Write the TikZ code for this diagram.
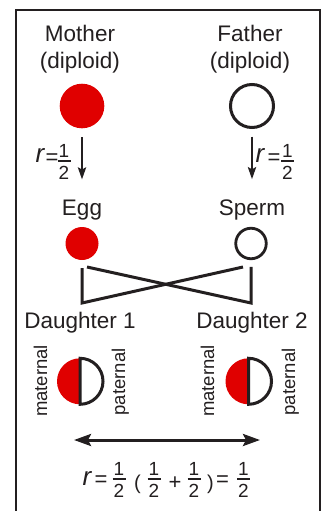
\documentclass[tikz,border=0pt]{standalone}
\usepackage{fontspec}
\setmainfont{Liberation Sans}
\usetikzlibrary{arrows.meta}
\definecolor{ink}{HTML}{231F20}
\definecolor{hred}{HTML}{E00000}

% stacked one-half: #1 name prefix, #2 x, #3 y of the bar
\newcommand\halfat[3]{%
  \node[num] (#1n) at (#2,#3-3.5) {1};
  \node[num] (#1d) at (#2,#3+18) {2};
  \draw[fracbar] (#2-6.5,#3) -- (#2+6.5,#3);
}

\begin{document}
\begin{tikzpicture}[x=1pt,y=-1pt,
  every node/.style={inner sep=0pt, outer sep=0pt, text=ink},
  lbl/.style={font=\fontsize{22.5}{26}\selectfont, anchor=base},
  side/.style={font=\fontsize{18.5}{20}\selectfont, anchor=base, rotate=90},
  num/.style={font=\fontsize{19}{20}\selectfont, anchor=base},
  sym/.style={font=\fontsize{22}{24}\selectfont, anchor=base},
  paren/.style={font=\fontsize{20}{22}\selectfont, anchor=base},
  rvar/.style={font=\fontsize{26}{28}\selectfont\itshape, anchor=base},
  fullcell/.style={circle, fill=hred},
  emptycell/.style={circle, draw=ink, line width=3pt, fill=white},
  halfcell/.style={circle, minimum size=46pt},
  fracbar/.style={draw=ink, line width=1.2pt},
  arr/.style={draw=ink, line width=2.8pt, -{Stealth[length=12pt,width=8pt,inset=2pt]}},
  link/.style={draw=ink, line width=3pt, line join=miter},
  dblarr/.style={draw=ink, line width=3pt,
    {Stealth[length=17pt,width=12pt,inset=3pt]}-{Stealth[length=17pt,width=12pt,inset=3pt]}},
  frame/.style={draw=ink, line width=2.5pt}
]
\useasboundingbox (0,0) rectangle (323,511);
\fill[white] (0,0) rectangle (323,511);

% outer frame, open at the bottom of the page
\draw[frame] (16,530) -- (16,10) -- (320,10) -- (320,530);

% parents
\node[lbl] (mlbl1) at (80,41.7) {Mother};
\node[lbl] (mlbl2) at (80,68) {(diploid)};
\node[lbl] (flbl1) at (250,41.7) {Father};
\node[lbl] (flbl2) at (250,68) {(diploid)};
\node[fullcell, minimum size=44.6pt] (mother) at (82,106) {};
\node[emptycell, minimum size=43pt] (father) at (252,106) {};

% gametes
\node[lbl] (egglbl) at (82,215) {Egg};
\node[lbl] (spermlbl) at (252,215) {Sperm};
\node[fullcell, minimum size=33pt] (egg) at (82,243.5) {};
\node[emptycell, line width=2.8pt, minimum size=30.5pt] (sperm) at (251,243.5) {};

% meiosis arrows
\draw[arr, shorten <=9pt, shorten >=20pt] (mother.south) -- (egglbl.north);
\draw[arr, shorten <=9pt, shorten >=20pt] (father.south) -- (spermlbl.north -| father.south);

% r = 1/2 beside each arrow
\node[rvar] (rl) at (40,162) {r};
\node[sym] (eql) at (52,164.6) {=};
\halfat{hl}{64}{161}
\node[rvar] (rr) at (260,162) {r};
\node[sym] (eqr) at (274,164.6) {=};
\halfat{hr}{287.5}{161}

% crossing lines from gametes to daughters
\coordinate (k1) at (82,303);
\coordinate (k2) at (251,303);
\coordinate (j1) at (243,267);
\coordinate (j2) at (87,267);
\draw[link] ([yshift=-8pt]egg.south) -- (k1) -- (j1);
\draw[link] ([yshift=-8pt]sperm.south) -- (k2) -- (j2);

% daughters
\node[lbl] (d1lbl) at (80,328.3) {Daughter 1};
\node[lbl] (d2lbl) at (252,328.3) {Daughter 2};

\node[halfcell] (d1) at (80,381.3) {};
\node[halfcell] (d2) at (248.5,381.3) {};
\foreach \c in {d1,d2}{
  \fill[hred] (\c.north) arc[start angle=90, end angle=270, radius=23pt] -- cycle;
  \filldraw[fill=white, draw=ink, line width=3pt, line join=miter]
    (\c.north) arc[start angle=90, end angle=-90, radius=23pt] -- cycle;
}
\node[side] (m1) at (47,381) {maternal};
\node[side] (p1) at (125,382) {paternal};
\node[side] (m2) at (214,381) {maternal};
\node[side] (p2) at (295,382) {paternal};

% relatedness between sisters
\coordinate (lend) at (74,440);
\coordinate (rend) at (260,440);
\draw[dblarr] (lend) -- (rend);

\node[rvar] (req) at (87,485) {r};
\node[sym] (eq1) at (101,486.6) {=};
\halfat{h1}{119}{479}
\node[paren] (po) at (137.5,489) {(};
\halfat{h2}{154}{479}
\node[sym] (plus) at (175,489) {+};
\halfat{h3}{194}{479}
\node[paren] (pc) at (210.5,489) {)};
\node[sym] (eq2) at (222.5,486.6) {=};
\halfat{h4}{243.5}{479}
\end{tikzpicture}
\end{document}
